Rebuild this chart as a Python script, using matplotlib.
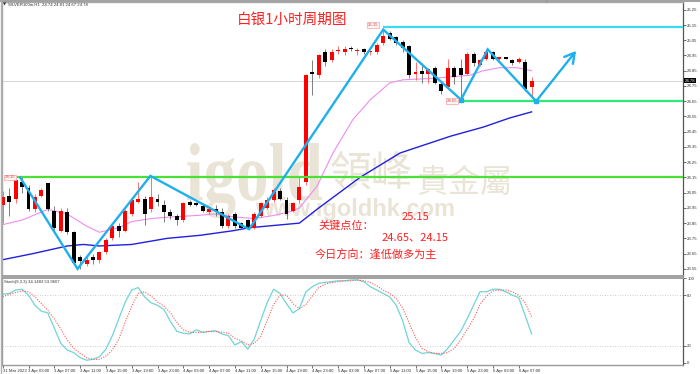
import matplotlib
matplotlib.use('Agg')
import matplotlib.pyplot as plt
import numpy as np
from matplotlib.textpath import TextPath
from matplotlib.patches import PathPatch
from matplotlib.font_manager import FontProperties
import matplotlib.transforms as mtransforms
from matplotlib.lines import Line2D

# ---------------- data ----------------
opens = [23.97, 24.03, 24.01, 24.12, 24.08, 23.94, 24.03, 24.11, 23.93, 23.80,
         23.92, 23.79, 23.63, 23.58, 23.63, 23.61, 23.66, 23.75, 23.83, 23.80,
         23.91, 23.99, 24.01, 23.94, 24.01, 23.97, 23.92, 23.90, 23.87, 23.99,
         23.98, 23.96, 23.92, 23.94, 23.92, 23.83, 23.91, 23.85, 23.87, 23.82,
         23.90, 23.95, 24.00, 24.06, 24.00, 23.93, 24.00, 24.12, 24.84, 24.82,
         24.97, 24.92, 24.98, 24.97, 25.00, 24.98, 24.99, 24.97, 24.97, 25.03,
         25.10, 25.07, 25.04, 25.01, 24.83, 24.85, 24.83, 24.87, 24.76, 24.74,
         24.87, 24.87, 24.83, 24.96, 24.89, 24.93, 24.97, 24.93, 24.94, 24.92,
         24.91, 24.91, 24.74]
highs = [24.06, 24.08, 24.14, 24.16, 24.10, 24.04, 24.08, 24.11, 23.96, 23.95,
         23.95, 23.80, 23.64, 23.63, 23.65, 23.67, 23.75, 23.84, 23.85, 23.94,
         24.01, 24.12, 24.03, 24.16, 24.04, 24.00, 23.94, 23.91, 23.99, 24.00,
         23.99, 23.98, 23.95, 23.97, 23.95, 23.91, 23.92, 23.86, 23.88, 23.92,
         23.99, 24.02, 24.08, 24.08, 24.02, 23.99, 24.15, 24.83, 24.92, 24.96,
         24.99, 24.99, 25.01, 25.01, 25.01, 25.00, 25.00, 24.98, 25.03, 25.12,
         25.11, 25.08, 25.05, 25.02, 24.91, 24.90, 24.87, 24.88, 24.78, 24.93,
         24.88, 24.93, 24.97, 24.97, 24.93, 24.99, 24.98, 24.94, 24.94, 24.93,
         24.94, 24.93, 24.81]
lows = [23.85, 23.90, 23.98, 24.05, 23.93, 23.92, 24.02, 23.93, 23.80, 23.79,
        23.78, 23.58, 23.55, 23.57, 23.58, 23.59, 23.65, 23.74, 23.76, 23.79,
        23.90, 23.98, 23.84, 23.92, 23.96, 23.86, 23.88, 23.84, 23.86, 23.96,
        23.96, 23.92, 23.91, 23.90, 23.82, 23.82, 23.82, 23.81, 23.81, 23.81,
        23.89, 23.94, 23.99, 24.00, 23.88, 23.92, 23.98, 24.10, 24.69, 24.80,
        24.88, 24.91, 24.96, 24.95, 24.98, 24.95, 24.96, 24.95, 24.96, 25.02,
        25.05, 25.02, 24.97, 24.80, 24.79, 24.77, 24.77, 24.76, 24.70, 24.73,
        24.76, 24.65, 24.82, 24.88, 24.88, 24.92, 24.92, 24.92, 24.93, 24.89,
        24.90, 24.72, 24.67]
closes = [24.02, 23.99, 24.13, 24.09, 23.94, 24.02, 24.07, 23.94, 23.82, 23.93,
          23.79, 23.59, 23.60, 23.61, 23.61, 23.66, 23.74, 23.83, 23.80, 23.93,
          24.00, 24.01, 23.91, 24.02, 23.99, 23.92, 23.90, 23.87, 23.98, 23.97,
          23.97, 23.93, 23.94, 23.93, 23.83, 23.90, 23.83, 23.82, 23.82, 23.91,
          23.98, 24.00, 24.07, 24.01, 23.91, 23.98, 24.09, 24.82, 24.83, 24.95,
          24.91, 24.97, 24.98, 24.99, 24.99, 24.98, 24.97, 24.97, 25.02, 25.08,
          25.06, 25.03, 25.00, 24.82, 24.84, 24.83, 24.86, 24.77, 24.72, 24.87,
          24.81, 24.82, 24.96, 24.90, 24.92, 24.97, 24.93, 24.93, 24.93, 24.90,
          24.93, 24.73, 24.78]

ma_pink_idx = [0, 3, 7, 10, 13, 15, 18, 20, 23, 26, 30, 33, 36, 39, 42, 45, 46,
               48.7, 51.2, 54.3, 57, 60, 62, 66.7, 72.4, 74.5, 77, 79.7, 82]
ma_pink_val = [23.84, 23.87, 23.94, 23.91, 23.83, 23.79, 23.82, 23.86, 23.88, 23.89,
               23.90, 23.91, 23.89, 23.88, 23.90, 23.93, 23.95, 24.09, 24.31, 24.53,
               24.66, 24.77, 24.79, 24.80, 24.82, 24.85, 24.87, 24.87, 24.85]
ma_blue_idx = [0, 4.7, 10, 12.5, 15, 20, 25.5, 30.6, 35.7, 38.3, 46, 48.7, 55.4,
               61.6, 69.4, 74.5, 78.6, 82]
ma_blue_val = [23.61, 23.65, 23.70, 23.71, 23.70, 23.71, 23.75, 23.77, 23.80, 23.82,
               23.85, 23.94, 24.15, 24.31, 24.42, 24.48, 24.54, 24.58]

zz_idx = [2.7, 11.6, 22.9, 38.2, 59.0, 71.05, 75.2, 82.7]
zz_val = [24.15, 23.55, 24.16, 23.81, 25.12, 24.66, 24.99, 24.65]
arrow_tip = (88.9, 24.98)

level_cyan = 25.14
level_green_hi = 24.65
level_green_lo = 24.15
cur_price = 24.78

stoch_k = [81, 82, 86, 87, 80, 68, 61, 59, 41, 23, 15, 12, 6, 3, 4, 7, 16, 32, 52, 72,
           86, 89, 78, 71, 68, 63, 49, 37, 35, 34, 39, 36, 37, 38, 34, 32, 21, 25, 16, 28,
           50, 71, 87, 82, 70, 59, 64, 84, 90, 94, 95, 96, 97, 97, 98, 98, 96, 90, 86, 82,
           78, 68, 50, 24, 15, 11, 12, 11, 9, 17, 27, 37, 52, 68, 84, 84, 87, 87, 84, 80,
           77, 56, 34]
stoch_d = [78, 81, 83, 85, 84, 78, 70, 62, 52, 40, 27, 17, 11, 6, 4, 4, 8, 15, 28, 48,
           67, 82, 84, 79, 72, 67, 59, 48, 39, 36, 36, 36, 37, 37, 36, 35, 29, 26, 21, 23,
           31, 50, 69, 80, 80, 70, 64, 69, 79, 89, 93, 95, 96, 97, 97, 98, 97, 95, 91, 86,
           82, 76, 65, 47, 30, 17, 13, 11, 11, 12, 17, 27, 39, 52, 69, 79, 85, 86, 86, 84,
           80, 71, 54]

price_ticks = [25.25, 25.15, 25.05, 24.95, 24.85, 24.75, 24.65, 24.55, 24.45, 24.35,
               24.25, 24.15, 24.05, 23.95, 23.85, 23.75, 23.65, 23.55]
stoch_ticks = [0, 20, 80, 100]
date_tick_idx = list(range(0, 84, 4))
date_labels = ['31 Mar 2023', '3 Apr 03:00', '3 Apr 07:00', '3 Apr 11:00', '3 Apr 15:00',
               '3 Apr 19:00', '3 Apr 23:00', '4 Apr 03:00', '4 Apr 07:00', '4 Apr 11:00',
               '4 Apr 15:00', '4 Apr 19:00', '4 Apr 23:00', '5 Apr 03:00', '5 Apr 07:00',
               '5 Apr 11:00', '5 Apr 15:00', '5 Apr 19:00', '5 Apr 23:00', '6 Apr 03:00',
               '6 Apr 07:00']

# ---------------- layout ----------------
W, H = 700, 374
fig = plt.figure(figsize=(7, 3.74), dpi=100)
fig.patch.set_facecolor('white')
small = dict(family='Liberation Sans')
fs_small = 3.1


def fx(px):
    return px / W


def fy(py):
    return 1 - py / H


ax = fig.add_axes([fx(2), fy(276), fx(683) - fx(2), fy(2) - fy(276)])
ax2 = fig.add_axes([fx(2), fy(364.5), fx(683) - fx(2), fy(277.5) - fy(364.5)])

x_left = (2 - 2.7) / 6.45
x_right = (683 - 2.7) / 6.45
for a in (ax, ax2):
    a.set_xlim(x_left, x_right)
    a.set_facecolor('white')

ax.set_ylim(25.15 - 251 / 152.4, 25.15 + 23 / 152.4)
ax2.set_ylim(-2.1, 100.9)

# ---------------- watermark ----------------
wm_col = '#EAE4D6'
fp = FontProperties(family='Liberation Serif', weight='bold')
tp = TextPath((0, 0), 'igold', size=100, prop=fp)
bb = tp.get_extents()
tp_l = TextPath((0, 0), 'l', size=100, prop=fp).get_extents()
sx = (322 - 187) / bb.width
sy = (200 - 143) / tp_l.y1
tr = mtransforms.Affine2D().translate(-bb.x0, 0).scale(sx, sy).translate(187, H - 200)
patch = PathPatch(tr.transform_path(tp), facecolor=wm_col, edgecolor='none',
                  transform=mtransforms.IdentityTransform(), zorder=0.5)
fig.add_artist(patch)
fig.text(fx(330), fy(174), '領峰', fontsize=30, color=wm_col, va='center', ha='left',
         family=['Noto Sans CJK TC'], zorder=0.5)
fig.text(fx(416), fy(183), '貴金屬', fontsize=23, color=wm_col, va='center', ha='left',
         family=['Noto Sans CJK TC'], zorder=0.5)
fig.text(fx(355), fy(216), 'www.igoldhk.com', fontsize=17, color=wm_col, va='baseline',
         ha='center', family='Liberation Sans', weight='bold', zorder=0.5)
ax.set_zorder(1)
ax.patch.set_alpha(0)

# ---------------- main chart ----------------
o = np.array(opens); h = np.array(highs); l = np.array(lows); c = np.array(closes)
idx = np.arange(len(o))
up = c >= o
body_col = np.where(up, '#FF0000', '#000000')
wick_col = np.where(up, '#FF5A5A', '#6A6A6A')

ax.axhline(cur_price, color='#D6D6D6', lw=0.7, zorder=1)

ax.plot(ma_pink_idx, ma_pink_val, color='#F08CF0', lw=0.8, zorder=2)
ax.plot(ma_blue_idx, ma_blue_val, color='#2020E0', lw=1.0, zorder=2)

ax.vlines(idx, l, h, colors=wick_col, lw=0.6, zorder=3)
bot = np.minimum(o, c)
hgt = np.maximum(np.abs(c - o), 0.007)
ax.bar(idx, hgt, bottom=bot, width=0.62, color=body_col, lw=0, zorder=4)

ax.hlines(level_cyan, 59.0, x_right + 1, color='#3CDCF0', lw=1.6, zorder=5)
ax.hlines(level_green_hi, 71.05, x_right + 1, color='#2EEB78', lw=1.6, zorder=5)
ax.hlines(level_green_lo, 2.2, x_right + 1, color='#4BE036', lw=1.6, zorder=5)

zz_col = '#1EB0EC'
ax.plot(zz_idx, zz_val, color=zz_col, lw=1.7, zorder=6, solid_joinstyle='miter')
ax.annotate('', xy=arrow_tip, xytext=(zz_idx[-1], zz_val[-1]),
            arrowprops=dict(arrowstyle='->,head_length=0.7,head_width=0.4', color=zz_col,
                            lw=1.7, shrinkA=0, shrinkB=0), zorder=6)
ax.plot([zz_idx[5], zz_idx[7]], [zz_val[5], zz_val[7]], ls='none', marker='s',
        ms=2.2, color=zz_col, zorder=6)

# small price boxes
box = dict(boxstyle='square,pad=0.2', fc='#FFF4F4', ec='#F3A0A0', lw=0.5)
fig.text(fx(5), fy(177.5), '24.15', fontsize=fs_small, color='#E04040', va='center', ha='left', bbox=box, **small)
fig.text(fx(368), fy(25), '25.15', fontsize=fs_small, color='#E04040', va='center', ha='left', bbox=box, **small)
fig.text(fx(447), fy(101), '24.65', fontsize=fs_small, color='#E04040', va='center', ha='left', bbox=box, **small)

# axis styling main
ax.set_yticks(price_ticks)
ax.set_yticklabels([f'{v:.2f}' for v in price_ticks], **small)
ax.yaxis.tick_right()
ax.tick_params(axis='y', length=2, width=0.5, labelsize=fs_small, pad=1.0, colors='#333333')
ax.set_xticks([])
for s in ('left', 'top'):
    ax.spines[s].set_color('#A8A8A8')
    ax.spines[s].set_linewidth(1.0)
ax.spines['bottom'].set_color('#9A9A9A')
ax.spines['bottom'].set_linewidth(1.3)
ax.spines['right'].set_color('#555555')
ax.spines['right'].set_linewidth(0.9)

# ---------------- stochastic ----------------
ax2.axhline(80, color='#BDBDBD', lw=0.6, ls=(0, (1, 2)))
ax2.axhline(20, color='#BDBDBD', lw=0.6, ls=(0, (1, 2)))
ax2.plot(idx, stoch_k, color='#72D4D4', lw=0.9)
ax2.plot(idx, stoch_d, color='#FF5A5A', lw=0.8, ls=(0, (1, 1.3)))
ax2.set_yticks(stoch_ticks)
ax2.set_yticklabels([str(v) for v in stoch_ticks], **small)
ax2.yaxis.tick_right()
ax2.tick_params(axis='y', length=2, width=0.5, labelsize=fs_small, pad=1.0, colors='#333333')
ax2.set_xticks(date_tick_idx)
ax2.set_xticklabels(date_labels, **small)
ax2.tick_params(axis='x', length=2.5, width=0.5, labelsize=fs_small, pad=1.0, colors='#333333')
for lbl in ax2.get_xticklabels():
    lbl.set_ha('left')
for s in ('left', 'bottom', 'top'):
    ax2.spines[s].set_color('#9A9A9A')
    ax2.spines[s].set_linewidth(1.0)
ax2.spines['top'].set_linewidth(1.3)
ax2.spines['right'].set_color('#555555')
ax2.spines['right'].set_linewidth(0.9)

# ---------------- texts ----------------
red = '#FF2020'
cjk = ['Noto Sans CJK SC', 'DejaVu Sans']
fig.text(fx(237), fy(20), '白银1小时周期图', fontsize=10.5, color=red, va='center', ha='left', family=cjk)
fig.text(fx(402), fy(217), '25.15', fontsize=8, color=red, va='center', ha='left', family=cjk)
fig.text(fx(318), fy(226), '关键点位：', fontsize=8, color=red, va='center', ha='left', family=cjk)
fig.text(fx(382), fy(237.5), '24.65、24.15', fontsize=8, color=red, va='center', ha='left', family=cjk)
fig.text(fx(315), fy(255.5), '今日方向：逢低做多为主', fontsize=8, color=red, va='center', ha='left', family=cjk)

fig.text(fx(2.5), fy(5), '▼', fontsize=3.0, color='#333333', va='center', ha='left')
fig.text(fx(8), fy(5), 'SILVER100m,H1  24.74 24.81 24.67 24.78', fontsize=fs_small, color='#333333',
         va='center', ha='left', **small)
fig.text(fx(4), fy(282), 'Stoch(9,3,3) 34.1483 53.9607', fontsize=fs_small, color='#333333',
         va='center', ha='left', **small)
fig.text(fx(547), fy(2.5), '▼', fontsize=3.0, color='#9A9A9A', va='center', ha='center')
fig.text(fx(684.5), fy(80.5), f'{cur_price:.2f}', fontsize=fs_small, color='white', va='center', ha='left',
         bbox=dict(boxstyle='square,pad=0.2', fc='black', ec='black', lw=0), **small)

# figure frame
fig.add_artist(Line2D([0, 1], [fy(0.6), fy(0.6)], color='#A0A0A0', lw=1.4, transform=fig.transFigure))
fig.add_artist(Line2D([fx(0.6), fx(0.6)], [0, 1], color='#B0B0B0', lw=1.0, transform=fig.transFigure))

fig.savefig('out.png', dpi=100, facecolor='white')
